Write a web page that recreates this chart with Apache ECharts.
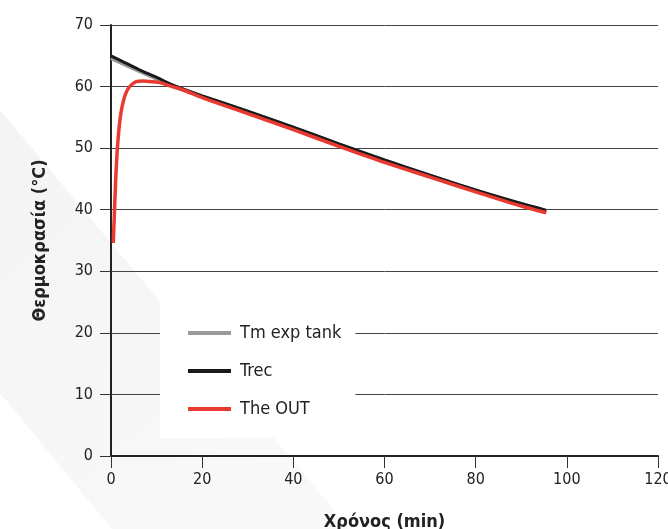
<!DOCTYPE html>
<html>
<head>
<meta charset="utf-8">
<script src="https://cdn.jsdelivr.net/npm/echarts@6/dist/echarts.min.js"></script>
<style>
  html, body { margin: 0; padding: 0; background: #fff; }
  #chart { width: 668px; height: 529px; }
</style>
</head>
<body>
<div id="chart"></div>
<script>
// time (min) and temperatures (°C)
var tankTime = [0, 3, 6, 10, 14, 20, 30, 40, 50, 60, 70, 80, 90, 95.5];
var tankTemp = [64.6, 63.6, 62.6, 61.3, 60.0, 58.4, 55.9, 53.3, 50.6, 48.0, 45.5, 43.1, 40.9, 39.8];

var recTime = [0, 3, 6, 10, 14, 20, 30, 40, 50, 60, 70, 80, 90, 95.5];
var recTemp = [65.0, 63.9, 62.8, 61.5, 60.1, 58.5, 56.0, 53.4, 50.7, 48.1, 45.6, 43.2, 41.0, 39.9];

var outTime = [0.5, 0.7, 0.9, 1.1, 1.4, 1.8, 2.2, 2.7, 3.2, 3.8, 4.5, 5.5, 7, 9, 11, 13, 16, 20, 30, 40, 50, 60, 70, 80, 90, 95.5];
var outTemp = [34.6, 38.5, 42.5, 46.0, 50.0, 53.5, 55.8, 57.6, 58.8, 59.7, 60.3, 60.8, 60.9, 60.8, 60.6, 60.1, 59.4, 58.2, 55.6, 53.0, 50.3, 47.7, 45.3, 42.9, 40.6, 39.5];

var xTicks = [0, 20, 40, 60, 80, 100, 120];
var yTicks = [0, 10, 20, 30, 40, 50, 60, 70];

var seriesNames = ['Tm exp tank', 'Trec', 'The OUT'];

function pairs(xs, ys) {
    var out = [];
    for (var i = 0; i < xs.length; i++) out.push([xs[i], ys[i]]);
    return out;
}

var font = '"Liberation Sans Narrow", "DejaVu Sans Condensed", "Roboto", sans-serif';

var chart = echarts.init(document.getElementById('chart'));

var option = {
    backgroundColor: '#fff',
    animation: false,
    textStyle: { fontFamily: font },
    graphic: [{
        type: 'polygon',
        z: -10,
        silent: true,
        shape: { points: [[0, 110], [350, 529], [112, 529], [0, 393]] },
        style: {
            fill: {
                type: 'linear', x: 0, y: 0, x2: 1, y2: 1,
                colorStops: [{ offset: 0, color: '#f4f4f4' }, { offset: 1, color: '#f9f9f9' }]
            }
        }
    }],
    grid: { left: 111, right: 10, top: 25, bottom: 73, outerBoundsMode: 'none', containLabel: false },
    legend: {
        orient: 'vertical',
        left: 160,
        top: 304,
        backgroundColor: '#fff',
        padding: [20, 14, 20, 28],
        itemGap: 20,
        itemWidth: 43,
        itemHeight: 4,
        icon: 'rect',
        textStyle: { fontSize: 18, color: '#222', fontFamily: font, padding: [0, 0, 0, 4] },
        data: seriesNames
    },
    xAxis: {
        type: 'value',
        min: 0, max: 120, interval: 20,
        name: 'Χρόνος (min)',
        nameLocation: 'middle',
        nameGap: 57,
        nameTextStyle: { fontSize: 18, color: '#222', fontWeight: 'bold', fontFamily: font },
        axisLine: { show: true, onZero: false, lineStyle: { color: '#222', width: 2 } },
        axisTick: { show: true, length: 12, lineStyle: { color: '#333', width: 1 } },
        axisLabel: {
            fontSize: 16, color: '#222', margin: 16,
            formatter: function (v) { return xTicks.indexOf(v) >= 0 ? String(v) : ''; }
        },
        splitLine: { show: false }
    },
    yAxis: {
        type: 'value',
        min: 0, max: 70, interval: 10,
        name: 'Θερμοκρασία (°C)',
        nameLocation: 'middle',
        nameGap: 62,
        nameRotate: 90,
        nameTextStyle: { fontSize: 18, color: '#222', fontWeight: 'bold', fontFamily: font },
        axisLine: { show: true, lineStyle: { color: '#222', width: 2 } },
        axisTick: { show: true, length: 11, lineStyle: { color: '#333', width: 1 } },
        axisLabel: {
            fontSize: 16, color: '#222', margin: 18,
            formatter: function (v) { return yTicks.indexOf(v) >= 0 ? String(v) : ''; }
        },
        splitLine: { show: true, lineStyle: { color: '#444', width: 1 } }
    },
    series: [
        {
            name: seriesNames[0],
            type: 'line',
            data: pairs(tankTime, tankTemp),
            showSymbol: false,
            smooth: 0.3,
            color: '#9a9a9a',
            lineStyle: { color: '#9a9a9a', width: 4 },
            z: 2
        },
        {
            name: seriesNames[1],
            type: 'line',
            data: pairs(recTime, recTemp),
            showSymbol: false,
            smooth: 0.3,
            color: '#1a1a1a',
            lineStyle: { color: '#1a1a1a', width: 3 },
            z: 3
        },
        {
            name: seriesNames[2],
            type: 'line',
            data: pairs(outTime, outTemp),
            showSymbol: false,
            smooth: 0.3,
            color: '#e83a30',
            lineStyle: { color: '#e83a30', width: 3.5 },
            z: 4
        }
    ]
};

chart.setOption(option);
</script>
</body>
</html>
